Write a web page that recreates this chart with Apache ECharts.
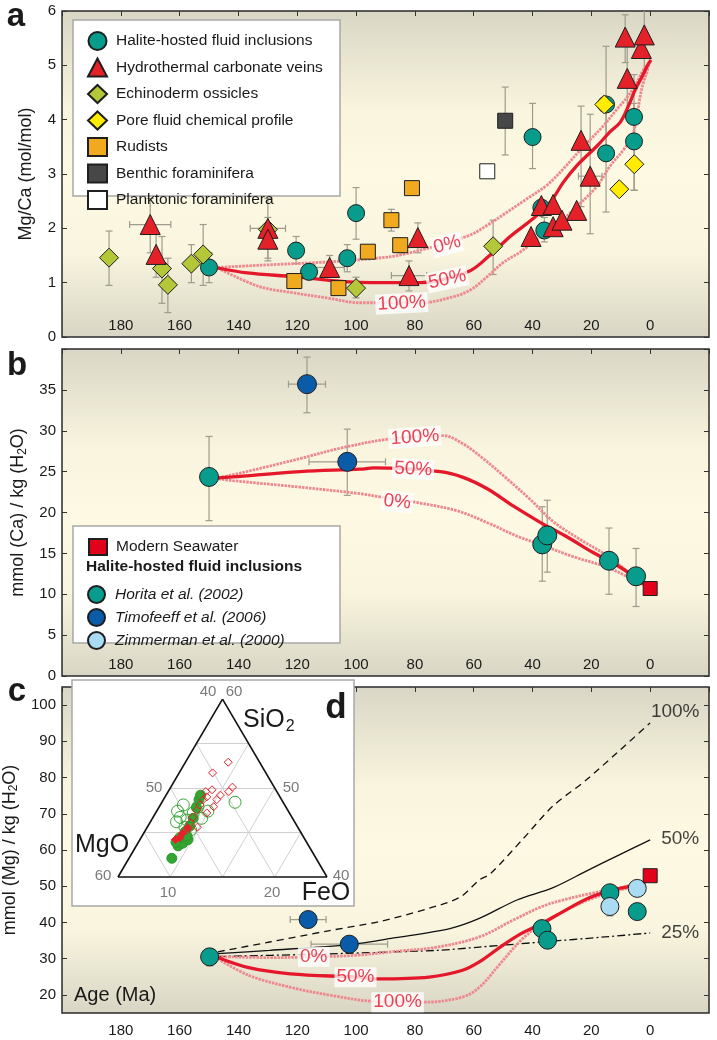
<!DOCTYPE html>
<html><head><meta charset="utf-8">
<script src="https://cdn.jsdelivr.net/npm/echarts@6/dist/echarts.min.js"></script>
<style>html,body{margin:0;padding:0;background:#fff}#c{width:717px;height:1040px}</style>
</head><body><div id="c"></div>
<script>
// ---------------- DATA ----------------
// Panel a: [age (Ma), Mg/Ca, errLow, errHigh, ageErr]
const haliteA = [[150,1.28,1.0,1.55,0],[120.4,1.59,1.35,1.85,0],[116,1.2,1.05,1.35,0],[103,1.45,1.2,1.7,0],[100,2.28,1.8,2.75,0],[40,3.68,3.1,4.3,0],[37,2.38,null,null,0],[36,1.96,1.75,2.2,0],[15,4.28,3.4,5.35,0],[15,3.38,2.3,4.4,0],[5.5,4.05,3.6,4.83,0],[5.5,3.6,2.7,4.3,0]];
const hydroA = [[170,2.07,1.55,2.55,7],[168,1.52,1.1,1.9,0],[130,2.0,1.45,2.55,6],[130,1.8,1.4,2.2,0],[109,1.28,1.1,1.5,5],[82,1.13,0.85,1.4,6],[79,1.83,1.55,2.1,0],[40.5,1.85,null,null,0],[37,2.42,null,null,0],[33,2.44,null,null,0],[33,2.03,null,null,0],[30,2.15,null,null,0],[25,2.33,null,null,0],[23.5,3.62,2.4,4.25,0],[20.4,2.96,1.9,4.1,4],[8.5,5.52,5.05,5.93,0],[7.8,4.76,4.1,5.48,0],[3,5.31,null,null,0],[2,5.56,4.85,6.1,0]];
const echinoA = [[184,1.46,0.95,1.95,0],[166,1.26,0.62,1.85,0],[164,0.96,0.45,1.45,0],[156,1.35,1.0,1.7,0],[152,1.52,0.95,2.07,0],[130,1.98,null,null,0],[100,0.9,0.72,1.1,0],[53.4,1.67,1.15,2.15,0]];
const poreA = [[15.6,4.28,null,null,0],[10.5,2.72,null,null,0],[5.4,3.18,2.7,3.6,0]];
const rudistA = [[121,1.03,null,null,0],[106,0.9,null,null,0],[96,1.57,null,null,0],[88,2.15,1.95,2.35,0],[85,1.69,1.55,1.8,0],[81,2.74,null,null,0]];
const benthicA = [[49.3,3.98,3.35,4.6,0]];
const planktonicA = [[55.4,3.05,null,null,0]];
const model0A = [[147,1.28],[133,1.32],[110,1.38],[95,1.44],[84,1.52],[62,1.86],[55,2.07],[50,2.25],[42,2.54],[35,2.8],[29.6,3.09],[22.8,3.5],[16,3.88],[11.5,4.18],[8,4.4],[5.5,4.6],[3,4.85],[1.5,5.0]];
const model50A = [[147,1.27],[137,1.18],[121,1.11],[104,1.02],[95,1.0],[78,1.0],[62,1.2],[55,1.48],[47.6,1.85],[40,2.17],[34,2.48],[29.5,2.85],[25,3.15],[18,3.52],[13.6,3.78],[10.2,3.95],[7.5,4.24],[5.1,4.55],[2.7,4.8],[0.7,5.02],[-0.3,5.1]];
const model100A = [[147,1.27],[133,0.93],[121,0.81],[110,0.72],[98.6,0.63],[78,0.63],[67,0.74],[61,0.87],[55.4,1.11],[50,1.37],[44,1.57],[37.4,1.85],[31.6,2.07],[24.8,2.41],[18,2.78],[13.6,3.15],[9,3.45],[6.1,3.69],[4.4,4.1],[3.4,4.43],[2.4,4.67],[1,4.89],[0.5,5.02]];
const labelsA = [['0%',69,1.70],['50%',69,1.06],['100%',84.5,0.62]];

// Panel b: [age, Ca (mmol/kg H2O), errLow, errHigh, ageErr]
const horitaB = [[150,24.35,19.0,29.3,0],[36.7,16.1,11.6,20.7,0],[35,17.2,12.7,21.5,0],[14,14.1,10.0,18.1,0],[4.8,12.2,8.5,15.6,0]];
const timofeeffB = [[116.7,35.7,32.2,39.0,6.3],[103,26.2,22.1,30.2,13]];
const seawaterB = [[0,10.7]];
const model0B = [[148,24.2],[142,23.9],[119,23.1],[98.6,22.3],[91.8,21.9],[79,21.2],[65.6,20.2],[54.4,18.6],[45.2,17.1],[37.4,16.1],[26.2,14.6],[14.6,13.3],[5.8,11.8],[2.5,11.2]];
const model50B = [[148,24.2],[142,24.35],[119,25.0],[98.6,25.3],[94,25.45],[71.4,25.0],[63.6,24.3],[55.4,22.9],[46.6,20.8],[37.4,18.8],[28.2,17.0],[19.4,15.1],[10.2,13.3],[3.4,11.6],[2.4,11.2]];
const model100B = [[148,24.2],[142,24.6],[119,26.6],[105,27.9],[88.4,29.0],[70.4,29.4],[63.6,28.4],[56.8,26.6],[48.6,24.1],[40.8,21.6],[33,18.9],[23.8,16.7],[14.6,14.7],[7.8,12.8],[3.4,11.4],[2.4,11.2]];
const labelsB = [['100%',80,29.2],['50%',80.6,25.3],['0%',86,21.3]];

// Panel c: [age, Mg (mmol/kg H2O), errLow, errHigh, ageErr]
const horitaC = [[149.8,30.5,28.0,32.8,0],[36.8,38.3,null,null,0],[34.9,35.1,null,null,0],[13.7,48.2,null,null,0],[4.4,43.0,41.5,45.2,0]];
const timofeeffC = [[116.3,40.8,null,null,6.1],[102.3,34.0,null,null,13]];
const zimmermanC = [[13.7,44.4,41.8,46.0,0],[4.4,49.4,null,null,0]];
const seawaterC = [[0,52.9]];
const mix100C = [[147,31.9],[129.4,34.6],[109.4,37.7],[92.3,40.2],[75.2,43.9],[64.6,47.0],[58,51.8],[54.4,53.4],[43.2,63.1],[33,72.2],[22.1,79.1],[11.2,86.9],[0,95.1]];
const mix50C = [[147,31.4],[129.4,32.3],[102.3,33.9],[86.6,35.8],[68.1,38.3],[58.1,41.1],[45.3,46.2],[33,49.6],[21.4,54.3],[11.2,58.4],[0,62.8]];
const mix25C = [[147,30.6],[115,31.2],[72.4,32.3],[58.1,33.2],[36.8,34.6],[15.4,36.0],[0,37.1]];
const model0C = [[147,30.6],[129.4,30.3],[114,30.5],[100.9,30.9],[86.6,32.0],[72.4,33.2],[58.1,36.0],[46.7,40.6],[36.8,44.4],[29.6,46.2],[19.7,48.1],[11.1,49.4],[2.6,51.3],[0.5,52.5]];
const model50C = [[147,30.3],[136.5,27.5],[122.3,25.8],[100,24.9],[92.3,24.4],[75.2,24.9],[63.8,26.8],[58.1,29.1],[51,33.2],[43.9,36.9],[36.8,39.7],[29.6,43.0],[21.1,46.7],[12.5,49.0],[2.6,50.8],[0.5,52.5]];
const model100C = [[147,30.0],[136.5,25.4],[122.3,22.1],[108,19.8],[93.8,18.2],[76.7,18.0],[63.8,19.4],[58.1,22.1],[51,28.6],[43.9,35.1],[36.8,39.7],[29.6,43.0],[21.1,46.2],[12.5,48.5],[2.6,50.6],[0.5,52.5]];
const labelsC = [['0%',114.4,30.5],['50%',100.2,24.9],['100%',85.9,18.0]];
const mixLabelsC = [['100%',-8.5,98.2],['50%',-10.2,63.1],['25%',-10.2,37.1]];

// Panel d (ternary inset): [FeO, SiO2] within sub-triangle SiO2 40-60, FeO 0-20
const greenFilledD = [[4.1,42.1],[4.0,43.5],[4.3,43.8],[4.6,44.2],[3.7,44.4],[3.9,45.1],[4.0,45.7],[3.9,46.6],[3.6,47.8],[3.4,48.7],[3.3,49.2],[3.6,43.9],[4.3,44.6]];
const greenOpenD = [[2.2,48.1],[2.0,47.4],[2.6,46.7],[3.4,46.4],[3.6,47.2],[4.7,46.6],[4.9,47.4],[7.0,48.4],[3.7,47.9],[3.6,45.6],[4.3,45.3],[2.5,46.2]];
const redOpenD = [[4.1,52.9],[3.2,51.7],[5.8,49.6],[5.9,50.1],[4.1,49.8],[4.0,49.0],[3.8,48.7],[3.8,48.1],[3.8,47.5],[3.8,46.7],[3.9,46.1],[4.0,45.3],[5.1,48.7],[5.2,47.9],[4.9,47.2],[4.8,45.6],[5.2,49.2],[3.6,49.6]];
const redFilledD = [[3.4,44.2],[3.7,44.4],[3.7,44.9],[3.9,45.5]];
const ternaryFractions = [0.25,0.5,0.75];

const xTicks = [0,20,40,60,80,100,120,140,160,180];
const yTicksC = [20,30,40,50,60,70,80,90,100];

// ---------------- CHART ----------------
const FONT = '"Liberation Sans", Arial, Helvetica, sans-serif';
const TXT = '#1a1a1a';
const chart = echarts.init(document.getElementById('c'), null, {renderer:'canvas', width:717, height:1040});

function bg(){
  return {type:'linear',x:0,y:0,x2:0,y2:1,colorStops:[
    {offset:0,color:'#d9d6c5'},{offset:0.3,color:'#f8f4dd'},{offset:0.5,color:'#fdf9e2'},
    {offset:0.74,color:'#f9f5de'},{offset:1,color:'#d8d5c4'}]};
}
const gridBoxes = [
  {left:62, top:11, width:647, height:326},
  {left:62, top:349, width:647, height:327},
  {left:62, top:687, width:647, height:326}
];
const grids = gridBoxes.map(g => Object.assign({}, g, {show:true, containLabel:false, outerBoundsMode:'none', backgroundColor:bg(), borderColor:'#2a2a2a', borderWidth:1.5, z:0}));
grids.push({left:72, top:680, width:282, height:226, show:true, containLabel:false, outerBoundsMode:'none', backgroundColor:'#ffffff', borderColor:'#a8a8a8', borderWidth:1.5, z:3});

const yCfg = [
  {min:0, max:6, interval:1},
  {min:0, max:40, interval:5},
  {min:15, max:105, custom:yTicksC}
];
const yNames = [
  '{a|Mg/Ca (mol/mol)}',
  '{a|mmol (Ca) / kg (H}{s|2}{a|O)}',
  '{a|mmol (Mg) / kg (H}{s|2}{a|O)}'
];
const xAxes = [], yAxes = [];
for (let i = 0; i < 3; i++) {
  xAxes.push({type:'value', gridIndex:i, position:'bottom', min:-20, max:200, interval:20, inverse:true,
    axisLine:{show:false, onZero:false}, axisTick:{show:false}, splitLine:{show:false},
    axisLabel:{inside:i<2, margin:i<2?4:10, fontSize:15, color:TXT, fontFamily:FONT,
      formatter:v => xTicks.indexOf(v) >= 0 ? String(v) : ''}});
  xAxes.push({type:'value', gridIndex:i, position:'top', min:-20, max:200, interval:20, inverse:true,
    axisLine:{show:false, onZero:false}, axisLabel:{show:false}, splitLine:{show:false},
    axisTick:{show:true, inside:true, length:5, lineStyle:{color:'#333', width:1}}});
  const c = yCfg[i];
  const left = {type:'value', gridIndex:i, position:'left', min:c.min, max:c.max,
    name:yNames[i], nameLocation:'middle', nameRotate:90, nameGap:27,
    nameTextStyle:{color:TXT, fontFamily:FONT, rich:{a:{fontSize:18, color:TXT, fontFamily:FONT}, s:{fontSize:12, color:TXT, fontFamily:FONT, padding:[9,0,0,0]}}},
    axisLine:{show:false, onZero:false}, splitLine:{show:false},
    axisTick:{show:true, inside:true, length:5, lineStyle:{color:'#333'}},
    axisLabel:{fontSize:15, color:TXT, fontFamily:FONT, margin:6,
      formatter: v => (i === 1 && v >= 40) ? '' : String(v)}};
  const right = {type:'value', gridIndex:i, position:'right', min:c.min, max:c.max,
    axisLine:{show:false, onZero:false}, splitLine:{show:false}, axisLabel:{show:false},
    axisTick:{show:true, inside:true, length:5, lineStyle:{color:'#333'}}};
  if (c.interval) { left.interval = c.interval; right.interval = c.interval; }
  if (c.custom) {
    left.axisTick.customValues = c.custom; left.axisLabel.customValues = c.custom;
    right.axisTick.customValues = c.custom;
  }
  yAxes.push(left, right);
}
// inset axes (normalized triangle coordinates)
xAxes.push({type:'value', gridIndex:3, show:false, min:-0.22, max:1.129, axisLine:{onZero:false}});
yAxes.push({type:'value', gridIndex:3, show:false, min:-0.163, max:1.107, axisLine:{onZero:false}});

const series = [];
function sc(name, data, p, symbol, size, color, z, border) {
  series.push({type:'scatter', name, xAxisIndex:2*p, yAxisIndex:2*p, data:data.map(d => [d[0], d[1]]),
    symbol, symbolSize:size, z, silent:true,
    itemStyle:{color, borderColor:border || '#1e1e1e', borderWidth:1, opacity:1}});
}
function errSeries(list, p) {
  const data = [];
  list.forEach(arr => arr.forEach(d => {
    const lo = d[2] == null ? d[1] : d[2], hi = d[3] == null ? d[1] : d[3], xe = d[4] || 0;
    if (hi > lo || xe > 0) data.push([d[0], d[1], lo, hi, xe]);
  }));
  series.push({type:'custom', xAxisIndex:2*p, yAxisIndex:2*p, z:2, silent:true, clip:true, data,
    encode:{x:0, y:1},
    renderItem(params, api) {
      const x = api.value(0), y = api.value(1), lo = api.value(2), hi = api.value(3), xe = api.value(4);
      const st = {stroke:'#9d9c8e', lineWidth:1.2};
      const cap = 3.5, ch = [];
      const ln = (a, b, c, d) => ch.push({type:'line', shape:{x1:a, y1:b, x2:c, y2:d}, style:st});
      if (hi > lo) {
        const p1 = api.coord([x, lo]), p2 = api.coord([x, hi]);
        ln(p1[0], p1[1], p2[0], p2[1]);
        ln(p1[0]-cap, p1[1], p1[0]+cap, p1[1]);
        ln(p2[0]-cap, p2[1], p2[0]+cap, p2[1]);
      }
      if (xe > 0) {
        const q1 = api.coord([x - xe, y]), q2 = api.coord([x + xe, y]);
        ln(q1[0], q1[1], q2[0], q2[1]);
        ln(q1[0], q1[1]-cap, q1[0], q1[1]+cap);
        ln(q2[0], q2[1]-cap, q2[0], q2[1]+cap);
      }
      return {type:'group', children:ch};
    }});
}
const RED = '#e5172a', PINK = '#ee878e';
function modelLines(m0, m50, m100, p) {
  [[m0, PINK, 2.8], [m100, PINK, 2.8], [m50, RED, 3.3]].forEach(([d, col, w]) => {
    series.push({type:'line', xAxisIndex:2*p, yAxisIndex:2*p, data:d, smooth:0.35, showSymbol:false, silent:true, z:2.5,
      lineStyle:{color:col, width:w, type: col === PINK ? [2.5,1] : 'solid'}});
  });
}
function labelSeries(items, p, color, bgc, rots, size) {
  series.push({type:'scatter', xAxisIndex:2*p, yAxisIndex:2*p, symbolSize:1, z:7, silent:true,
    itemStyle:{color:'transparent'},
    data:items.map((it, k) => ({value:[it[1], it[2]], label:{formatter:it[0], rotate:rots ? rots[k] : 0}})),
    label:{show:true, position:'inside', color, fontSize:size || 19, fontFamily:FONT, backgroundColor:bgc, padding:[1,2,0,2]}});
}

// Panel a
errSeries([haliteA, hydroA, echinoA, poreA, rudistA, benthicA, planktonicA], 0);
modelLines(model0A, model50A, model100A, 0);
sc('Halite-hosted fluid inclusions', haliteA, 0, 'circle', 17, '#089c8c', 3);
sc('Hydrothermal carbonate veins', hydroA, 0, 'triangle', 20, '#e42128', 4);
sc('Echinoderm ossicles', echinoA, 0, 'diamond', 19, '#b4c736', 3);
sc('Pore fluid chemical profile', poreA, 0, 'diamond', 19, '#ffec00', 5);
sc('Rudists', rudistA, 0, 'rect', 15, '#f1a91f', 3);
sc('Benthic foraminifera', benthicA, 0, 'rect', 15, '#474747', 3);
sc('Planktonic foraminifera', planktonicA, 0, 'rect', 15, '#ffffff', 3);
labelSeries(labelsA, 0, '#e8122a', '#ffffff', [15, 12, 3]);

// Panel b
errSeries([horitaB, timofeeffB], 1);
modelLines(model0B, model50B, model100B, 1);
sc('Horita et al. (2002)', horitaB, 1, 'circle', 19, '#089c8c', 4);
sc('Timofeeff et al. (2006)', timofeeffB, 1, 'circle', 19, '#0b5ca8', 4);
sc('Modern Seawater', seawaterB, 1, 'rect', 14, '#e3001a', 4);
labelSeries(labelsB, 1, '#e8122a', '#ffffff', [4, -3, -6]);

// Panel c
errSeries([horitaC, timofeeffC, zimmermanC], 2);
[[mix100C, [7,5]], [mix50C, 'solid'], [mix25C, [8,3,2,3]]].forEach(([d, t]) => {
  series.push({type:'line', xAxisIndex:4, yAxisIndex:4, data:d, smooth:0.3, showSymbol:false, silent:true, z:2.4,
    lineStyle:{color:'#111', width:1.3, type:t}});
});
modelLines(model0C, model50C, model100C, 2);
sc('Horita et al. (2002)', horitaC, 2, 'circle', 18, '#089c8c', 4);
sc('Timofeeff et al. (2006)', timofeeffC, 2, 'circle', 18, '#0b5ca8', 4);
sc('Zimmerman et al. (2000)', zimmermanC, 2, 'circle', 18, '#a9dbf2', 4);
sc('Modern Seawater', seawaterC, 2, 'rect', 14, '#e3001a', 4);
labelSeries(labelsC, 2, '#e8122a', '#ffffff');
labelSeries(mixLabelsC, 2, '#111111', 'transparent', null, 19);

// Panel d (ternary inset)
const tern = d => [d[0]/20 + (d[1]-40)/40, (d[1]-40)/20];
const gridSegs = [];
ternaryFractions.forEach(t => {
  gridSegs.push({coords:[[t/2, t], [1 - t/2, t]]});
  gridSegs.push({coords:[[t, 0], [t + (1 - t)/2, 1 - t]]});
  gridSegs.push({coords:[[1 - t, 0], [(1 - t)/2, 1 - t]]});
});
series.push({type:'lines', coordinateSystem:'cartesian2d', xAxisIndex:6, yAxisIndex:6, z:5, silent:true,
  data:gridSegs, lineStyle:{color:'#d0d0d0', width:1, opacity:1}});
series.push({type:'lines', coordinateSystem:'cartesian2d', xAxisIndex:6, yAxisIndex:6, z:6, silent:true,
  data:[{coords:[[0,0],[1,0]]},{coords:[[1,0],[0.5,1]]},{coords:[[0.5,1],[0,0]]}],
  lineStyle:{color:'#111', width:1.6, opacity:1}});
function tsc(data, symbol, size, fill, stroke) {
  series.push({type:'scatter', xAxisIndex:6, yAxisIndex:6, z:7, silent:true, data:data.map(tern),
    symbol, symbolSize:size, itemStyle:{color:fill, borderColor:stroke, borderWidth:1, opacity:1}});
}
tsc(greenOpenD, 'circle', 12, 'rgba(255,255,255,0)', '#37a637');
tsc(greenFilledD, 'circle', 10, '#33a532', '#2a9a2a');
tsc(redOpenD, 'diamond', 8, 'rgba(255,255,255,0)', '#e8202a');
tsc(redFilledD, 'diamond', 8, '#e8202a', '#e8202a');

// ---------------- GRAPHIC (letters, legend boxes, inset labels) ----------------
const G = '#7a7a7a';
function txt(text, x, y, size, opts) {
  return Object.assign({type:'text', z:20, silent:true,
    style:Object.assign({text, x, y, fontSize:size, fontFamily:FONT, fill:TXT, align:'center', verticalAlign:'middle'}, opts || {})});
}
const graphic = [
  {type:'rect', z:1, silent:true, shape:{x:73, y:20, width:267, height:176}, style:{fill:'#fff', stroke:'#a8a8a8', lineWidth:1.5}},
  {type:'rect', z:1, silent:true, shape:{x:73, y:526, width:267, height:117}, style:{fill:'#fff', stroke:'#a8a8a8', lineWidth:1.5}},
  txt('a', 16, 17, 33, {fontWeight:'bold'}),
  txt('b', 17, 366, 33, {fontWeight:'bold'}),
  txt('c', 17, 692, 33, {fontWeight:'bold'}),
  txt('d', 336, 708, 35, {fontWeight:'bold'}),
  txt('Halite-hosted fluid inclusions', 86, 567, 15.5, {fontWeight:'bold', align:'left'}),
  txt('Age (Ma)', 74, 995, 20, {align:'left'}),
  txt('40', 208, 692, 15, {fill:G}), txt('60', 234, 692, 15, {fill:G}),
  txt('50', 154, 788, 15, {fill:G}), txt('50', 291, 788, 15, {fill:G}),
  txt('60', 103, 876, 15, {fill:G}), txt('40', 341, 876, 15, {fill:G}),
  txt('10', 168, 893, 15, {fill:G}), txt('20', 272, 893, 15, {fill:G}),
  {type:'text', z:20, silent:true, style:{text:'{a|SiO}{s|2}', x:243, y:720, align:'left', verticalAlign:'middle',
    rich:{a:{fontSize:25, fontFamily:FONT, fill:TXT}, s:{fontSize:16, fontFamily:FONT, fill:TXT, padding:[14,0,0,1]}}}},
  txt('MgO', 102, 845, 25),
  txt('FeO', 326, 893, 25)
];

const legendText = {fontSize:15.5, color:TXT, fontFamily:FONT, padding:[0,0,0,4]};
const option = {
  animation:false,
  grid:grids, xAxis:xAxes, yAxis:yAxes, series, graphic,
  legend:[
    {orient:'vertical', left:82, top:26, itemWidth:19, itemHeight:18, itemGap:6.5, selectedMode:false, z:5,
      data:['Halite-hosted fluid inclusions','Hydrothermal carbonate veins','Echinoderm ossicles','Pore fluid chemical profile','Rudists','Benthic foraminifera','Planktonic foraminifera'],
      textStyle:legendText},
    {orient:'vertical', left:83, top:533, itemWidth:18, itemHeight:16, selectedMode:false, z:5,
      data:['Modern Seawater'], textStyle:legendText},
    {orient:'vertical', left:82, top:580, itemWidth:19, itemHeight:17, itemGap:4, selectedMode:false, z:5,
      data:['Horita et al. (2002)','Timofeeff et al. (2006)','Zimmerman et al. (2000)'],
      textStyle:Object.assign({}, legendText, {fontStyle:'italic'})}
  ]
};
chart.setOption(option);
</script></body></html>
